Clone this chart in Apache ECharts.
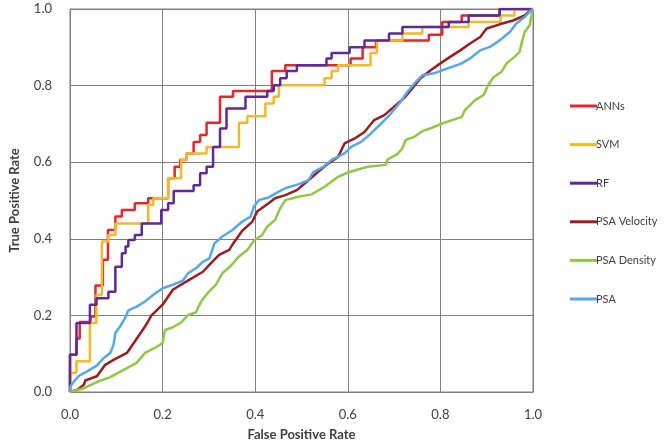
<!DOCTYPE html>
<html>
<head>
<meta charset="utf-8">
<script src="https://cdn.jsdelivr.net/npm/echarts@6/dist/echarts.min.js"></script>
<style>
html,body{margin:0;padding:0;background:#fff;}
#chart{width:664px;height:447px;}
</style>
</head>
<body>
<div id="chart"></div>
<script>
var seriesNames = ['ANNs', 'SVM', 'RF', 'PSA Velocity', 'PSA Density', 'PSA'];
var xTicks = [0, 0.2, 0.4, 0.6, 0.8, 1.0];
var yTicks = [0, 0.2, 0.4, 0.6, 0.8, 1.0];

var annROC = [[0,0],[0,0.097],[0.014,0.097],[0.014,0.14],[0.021,0.14],[0.021,0.183],[0.044,0.183],[0.044,0.197],[0.055,0.197],[0.055,0.278],[0.071,0.278],[0.071,0.345],[0.082,0.345],[0.082,0.423],[0.098,0.423],[0.098,0.458],[0.112,0.458],[0.112,0.475],[0.140,0.475],[0.140,0.493],[0.169,0.493],[0.169,0.506],[0.212,0.506],[0.212,0.558],[0.226,0.558],[0.226,0.588],[0.238,0.588],[0.238,0.606],[0.252,0.606],[0.252,0.623],[0.267,0.623],[0.267,0.653],[0.281,0.653],[0.281,0.671],[0.295,0.671],[0.295,0.703],[0.324,0.703],[0.324,0.771],[0.352,0.771],[0.352,0.786],[0.436,0.786],[0.436,0.838],[0.465,0.838],[0.465,0.853],[0.606,0.853],[0.606,0.871],[0.632,0.871],[0.632,0.90],[0.661,0.90],[0.661,0.918],[0.775,0.918],[0.775,0.933],[0.804,0.933],[0.804,0.966],[0.846,0.966],[0.846,0.983],[0.928,0.983],[0.928,1],[1,1]];

var svmROC = [[0,0],[0,0.05],[0.014,0.05],[0.014,0.08],[0.043,0.08],[0.043,0.18],[0.057,0.18],[0.057,0.254],[0.069,0.254],[0.069,0.393],[0.083,0.393],[0.083,0.41],[0.098,0.41],[0.098,0.44],[0.169,0.44],[0.169,0.488],[0.18,0.488],[0.18,0.506],[0.212,0.506],[0.212,0.558],[0.240,0.558],[0.240,0.606],[0.252,0.606],[0.252,0.623],[0.295,0.623],[0.295,0.64],[0.365,0.64],[0.365,0.703],[0.383,0.703],[0.383,0.72],[0.422,0.72],[0.422,0.753],[0.44,0.753],[0.44,0.771],[0.451,0.771],[0.451,0.801],[0.55,0.801],[0.55,0.819],[0.565,0.819],[0.565,0.838],[0.579,0.838],[0.579,0.853],[0.649,0.853],[0.649,0.885],[0.663,0.885],[0.663,0.918],[0.718,0.918],[0.718,0.936],[0.761,0.936],[0.761,0.953],[0.861,0.953],[0.861,0.966],[0.93,0.966],[0.93,0.983],[0.96,0.983],[0.96,1],[1,1]];

var rfROC = [[0,0],[0,0.097],[0.014,0.097],[0.014,0.18],[0.043,0.18],[0.043,0.228],[0.057,0.228],[0.057,0.245],[0.083,0.245],[0.083,0.262],[0.098,0.262],[0.098,0.327],[0.112,0.327],[0.112,0.362],[0.12,0.362],[0.12,0.38],[0.126,0.38],[0.126,0.397],[0.14,0.397],[0.14,0.41],[0.155,0.41],[0.155,0.44],[0.197,0.44],[0.197,0.475],[0.212,0.475],[0.212,0.493],[0.224,0.493],[0.224,0.525],[0.267,0.525],[0.267,0.540],[0.281,0.540],[0.281,0.571],[0.295,0.571],[0.295,0.588],[0.309,0.588],[0.309,0.640],[0.324,0.640],[0.324,0.688],[0.338,0.688],[0.338,0.740],[0.379,0.740],[0.379,0.771],[0.426,0.771],[0.426,0.786],[0.44,0.786],[0.44,0.801],[0.454,0.801],[0.454,0.819],[0.468,0.819],[0.468,0.838],[0.49,0.838],[0.49,0.853],[0.554,0.853],[0.554,0.871],[0.565,0.871],[0.565,0.885],[0.604,0.885],[0.604,0.90],[0.636,0.90],[0.636,0.918],[0.689,0.918],[0.689,0.936],[0.718,0.936],[0.718,0.953],[0.818,0.953],[0.818,0.966],[0.861,0.966],[0.861,0.983],[0.928,0.983],[0.928,1],[1,1]];

var velocityROC = [[0,0],[0.016,0.006],[0.030,0.019],[0.033,0.030],[0.058,0.041],[0.076,0.071],[0.094,0.084],[0.123,0.102],[0.14,0.132],[0.162,0.171],[0.176,0.2],[0.2,0.228],[0.222,0.267],[0.251,0.288],[0.287,0.314],[0.304,0.336],[0.322,0.358],[0.344,0.371],[0.351,0.385],[0.372,0.421],[0.394,0.445],[0.404,0.471],[0.429,0.493],[0.443,0.506],[0.465,0.514],[0.49,0.527],[0.515,0.553],[0.536,0.575],[0.558,0.597],[0.579,0.614],[0.593,0.649],[0.615,0.662],[0.636,0.679],[0.657,0.71],[0.679,0.723],[0.700,0.745],[0.722,0.768],[0.736,0.788],[0.757,0.819],[0.779,0.840],[0.8,0.858],[0.821,0.875],[0.843,0.892],[0.864,0.910],[0.886,0.927],[0.9,0.949],[0.928,0.960],[0.957,0.970],[0.982,0.983],[0.996,0.998],[1,1]];

var densityROC = [[0,0],[0.03,0.010],[0.058,0.026],[0.087,0.039],[0.116,0.058],[0.144,0.076],[0.162,0.102],[0.183,0.115],[0.2,0.128],[0.205,0.162],[0.222,0.169],[0.240,0.181],[0.255,0.201],[0.272,0.208],[0.283,0.236],[0.297,0.258],[0.315,0.280],[0.329,0.310],[0.347,0.329],[0.365,0.354],[0.383,0.371],[0.397,0.395],[0.415,0.41],[0.426,0.432],[0.443,0.449],[0.454,0.480],[0.465,0.501],[0.493,0.510],[0.522,0.516],[0.550,0.536],[0.579,0.562],[0.6,0.573],[0.622,0.581],[0.643,0.588],[0.682,0.593],[0.686,0.607],[0.707,0.621],[0.718,0.636],[0.725,0.658],[0.743,0.666],[0.761,0.681],[0.782,0.690],[0.804,0.701],[0.825,0.710],[0.846,0.718],[0.853,0.736],[0.875,0.762],[0.893,0.775],[0.903,0.801],[0.914,0.821],[0.932,0.836],[0.943,0.858],[0.960,0.875],[0.971,0.888],[0.977,0.918],[0.982,0.940],[0.993,0.958],[0.996,0.979],[1,1]];

var psaROC = [[0,0],[0.001,0.015],[0.009,0.028],[0.019,0.042],[0.037,0.054],[0.058,0.069],[0.073,0.089],[0.087,0.102],[0.094,0.123],[0.098,0.154],[0.108,0.171],[0.119,0.193],[0.126,0.213],[0.144,0.223],[0.162,0.236],[0.18,0.254],[0.2,0.271],[0.222,0.280],[0.244,0.291],[0.255,0.310],[0.272,0.323],[0.287,0.340],[0.301,0.349],[0.312,0.388],[0.329,0.406],[0.351,0.423],[0.372,0.445],[0.39,0.458],[0.397,0.484],[0.408,0.501],[0.429,0.508],[0.451,0.523],[0.465,0.532],[0.493,0.542],[0.515,0.553],[0.526,0.575],[0.547,0.588],[0.565,0.606],[0.593,0.623],[0.607,0.640],[0.629,0.653],[0.650,0.675],[0.672,0.701],[0.693,0.727],[0.714,0.758],[0.729,0.784],[0.747,0.810],[0.761,0.827],[0.786,0.832],[0.804,0.840],[0.825,0.849],[0.846,0.858],[0.864,0.871],[0.886,0.892],[0.907,0.901],[0.928,0.918],[0.95,0.940],[0.964,0.962],[0.982,0.979],[0.996,0.997],[1,1]];

var seriesData = [annROC, svmROC, rfROC, velocityROC, densityROC, psaROC];
var seriesColors = ['#E8252B', '#F2B928', '#5C2A9D', '#9E1B1E', '#8FC843', '#55A7EE'];

var FONT = 'Lato, "Open Sans", sans-serif';
var chart = echarts.init(document.getElementById('chart'), null, {renderer: 'canvas'});

var series = seriesNames.map(function (name, i) {
  return {
    name: name,
    type: 'line',
    data: seriesData[i],
    symbol: 'none',
    showSymbol: false,
    lineStyle: {width: 2.5, color: seriesColors[i]},
    itemStyle: {color: seriesColors[i]},
    z: 2 + i
  };
});

var gridColor = '#808080';
chart.setOption({
  animation: false,
  backgroundColor: '#fff',
  grid: {left: 66, top: 9, width: 467, height: 383, show: true, borderColor: gridColor, borderWidth: 1, containLabel: false},
  legend: {
    orient: 'vertical',
    left: 565,
    top: 94,
    icon: 'rect',
    itemWidth: 27,
    itemHeight: 3,
    itemGap: 24.6,
    data: seriesNames,
    textStyle: {fontFamily: FONT, fontSize: 11, lineHeight: 14, color: '#404040', padding: [0, 0, 0, -6]}
  },
  xAxis: {
    type: 'value', min: xTicks[0], max: xTicks[xTicks.length - 1], interval: 0.2,
    name: 'False Positive Rate', nameLocation: 'middle', nameGap: 36,
    nameTextStyle: {fontFamily: FONT, fontSize: 13, fontWeight: 'bold', color: '#404040'},
    axisLine: {show: true, lineStyle: {color: gridColor, width: 1}},
    axisTick: {show: false},
    axisLabel: {fontFamily: FONT, fontSize: 13, color: '#404040', margin: 16, formatter: function (v) { return v.toFixed(1); }},
    splitLine: {show: true, lineStyle: {color: gridColor, width: 1}}
  },
  yAxis: {
    type: 'value', min: yTicks[0], max: yTicks[yTicks.length - 1], interval: 0.2,
    name: 'True Positive Rate', nameLocation: 'middle', nameGap: 49,
    nameTextStyle: {fontFamily: FONT, fontSize: 13, fontWeight: 'bold', color: '#404040'},
    axisLine: {show: true, lineStyle: {color: gridColor, width: 1}},
    axisTick: {show: false},
    axisLabel: {fontFamily: FONT, fontSize: 13, color: '#404040', margin: 18, formatter: function (v) { return v.toFixed(1); }},
    splitLine: {show: true, lineStyle: {color: gridColor, width: 1}}
  },
  series: series
});
</script>
</body>
</html>
